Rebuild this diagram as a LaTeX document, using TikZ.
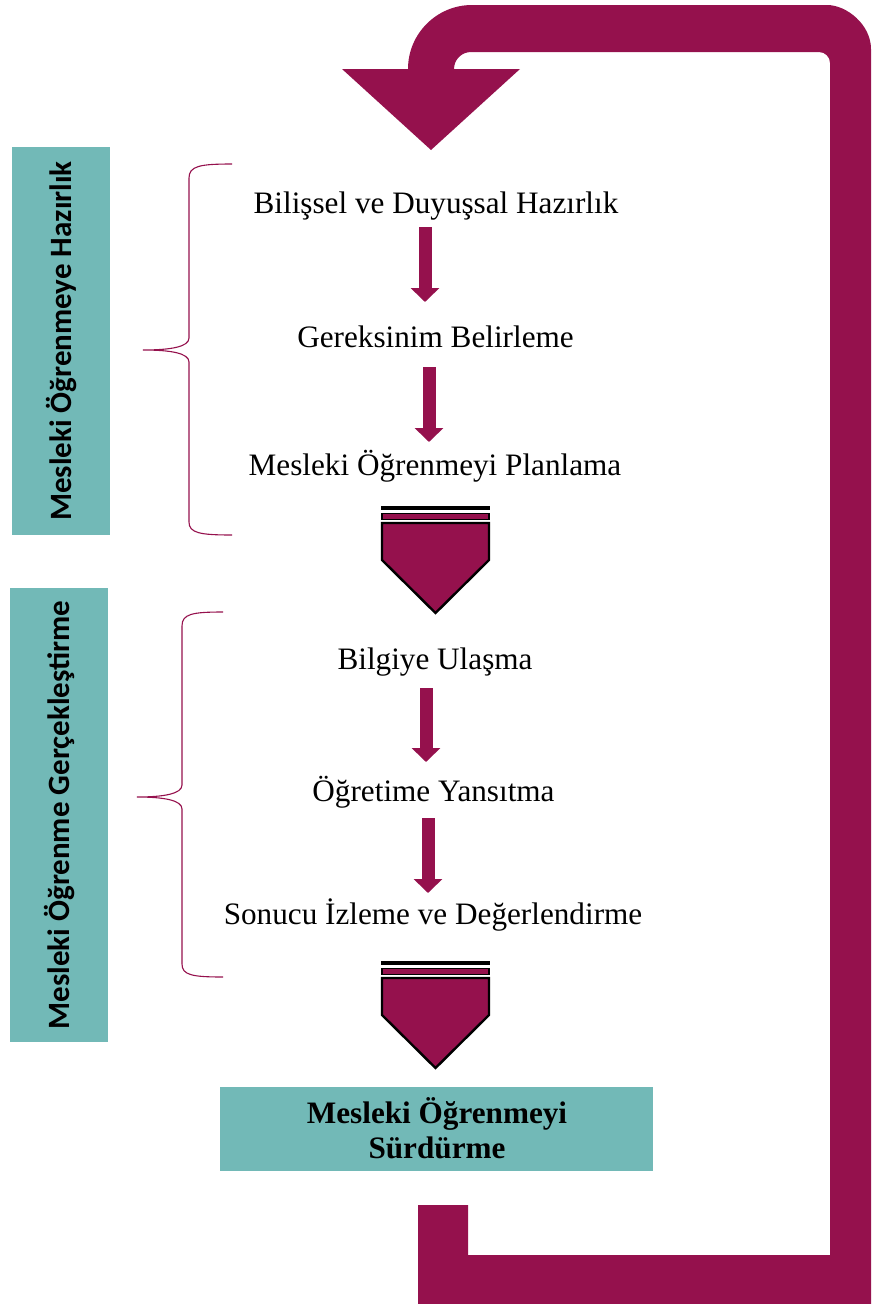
\documentclass[tikz,border=0pt]{standalone}
\usepackage{fontspec}
\setmainfont{Liberation Serif}
\newfontfamily\carl{Carlito}
\usetikzlibrary{arrows.meta}
\definecolor{maroon}{RGB}{149,17,77}
\definecolor{tealbox}{RGB}{114,185,183}
\tikzset{
  steptext/.style={anchor=base, font=\fontsize{31.2}{36}\selectfont, inner sep=0pt},
  sidebox/.style={fill=tealbox, draw=none},
  sidelabel/.style={rotate=90, font=\fontsize{31}{36}\selectfont\carl\bfseries, inner sep=0pt},
  fatarrow/.style={draw=maroon, line width=13pt, -{Triangle[width=28pt,length=14pt]}},
  bracestyle/.style={draw=maroon, line width=1.1pt},
  chevbar/.style={fill=maroon, draw=black, line width=1.2pt},
  chevbody/.style={fill=maroon, draw=black, line width=2.4pt, line join=miter}
}
\begin{document}
\begin{tikzpicture}[x=1pt,y=-1pt]
\useasboundingbox (0,0) rectangle (871,1304);

% loop band
\fill[maroon] (418,1304) -- (871,1304) -- (871,49)
  .. controls (871,24.7) and (846.7,5) .. (827,5)
  -- (472,5) .. controls (436.7,5) and (408,33.7) .. (408,69)
  -- (342,69) -- (431,150) -- (520,69) -- (454,69)
  .. controls (454,59.6) and (461.6,52) .. (471,52)
  -- (819,52) .. controls (825.1,52) and (830,56.9) .. (830,63)
  -- (830,1255) -- (468,1255) -- (468,1205) -- (418,1205) -- cycle;

% side boxes
\fill[sidebox] (12,147) rectangle (110,535);
\node[sidelabel] (lab1) at (62,341) {Mesleki Öğrenmeye Hazırlık};
\fill[sidebox] (10,588) rectangle (108,1042);
\node[sidelabel] (lab2) at (60,815) {Mesleki Öğrenme Gerçekleştirme};

% braces
\draw[bracestyle] (232,164) .. controls (200,164) and (189,166) .. (189,178)
  -- (189,338) .. controls (189,347) and (170,350) .. (143,350)
  .. controls (170,350) and (189,353) .. (189,362)
  -- (189,522) .. controls (189,533) and (200,535) .. (232,535);
\draw[bracestyle] (223,612) .. controls (192,612) and (182,614) .. (182,626)
  -- (182,785) .. controls (182,794) and (163,797) .. (137,797)
  .. controls (163,797) and (182,800) .. (182,809)
  -- (182,964) .. controls (182,975) and (192,977) .. (223,977);

% steps
\node[steptext] (s1) at (436,213) {Bilişsel ve Duyuşsal Hazırlık};
\node[steptext] (s2) at (435.5,347) {Gereksinim Belirleme};
\node[steptext] (s3) at (435,475) {Mesleki Öğrenmeyi Planlama};
\node[steptext] (s4) at (435,669) {Bilgiye Ulaşma};
\node[steptext] (s5) at (433.5,801) {Öğretime Yansıtma};
\node[steptext] (s6) at (433,924) {Sonucu İzleme ve Değerlendirme};

% small arrows
\coordinate (a1s) at (425,227); \coordinate (a1e) at (425,302);
\coordinate (a2s) at (429,367); \coordinate (a2e) at (429,442);
\coordinate (a3s) at (426,688); \coordinate (a3e) at (426,762);
\coordinate (a4s) at (428,818); \coordinate (a4e) at (428,893);
\draw[fatarrow] (a1s) -- (a1e);
\draw[fatarrow] (a2s) -- (a2e);
\draw[fatarrow] (a3s) -- (a3e);
\draw[fatarrow] (a4s) -- (a4e);

% chevrons
\foreach \dy in {0,455}{
  \begin{scope}[yshift=-\dy pt]
  \fill[black] (381,506) rectangle (490,510);
  \filldraw[chevbar] (382,513.5) rectangle (489,519.5);
  \filldraw[chevbody] (382,523) -- (489,523) -- (489,560) -- (435.5,613) -- (382,560) -- cycle;
  \end{scope}
}

% final box
\node[fill=tealbox, minimum width=433pt, minimum height=84pt, inner sep=0pt] (fin) at (436.5,1129) {};
\node[steptext, font=\fontsize{31.2}{35}\selectfont\bfseries] (fin1) at (437,1123) {Mesleki Öğrenmeyi};
\node[steptext, font=\fontsize{31.2}{35}\selectfont\bfseries] (fin2) at (437,1158) {Sürdürme};
\end{tikzpicture}
\end{document}
